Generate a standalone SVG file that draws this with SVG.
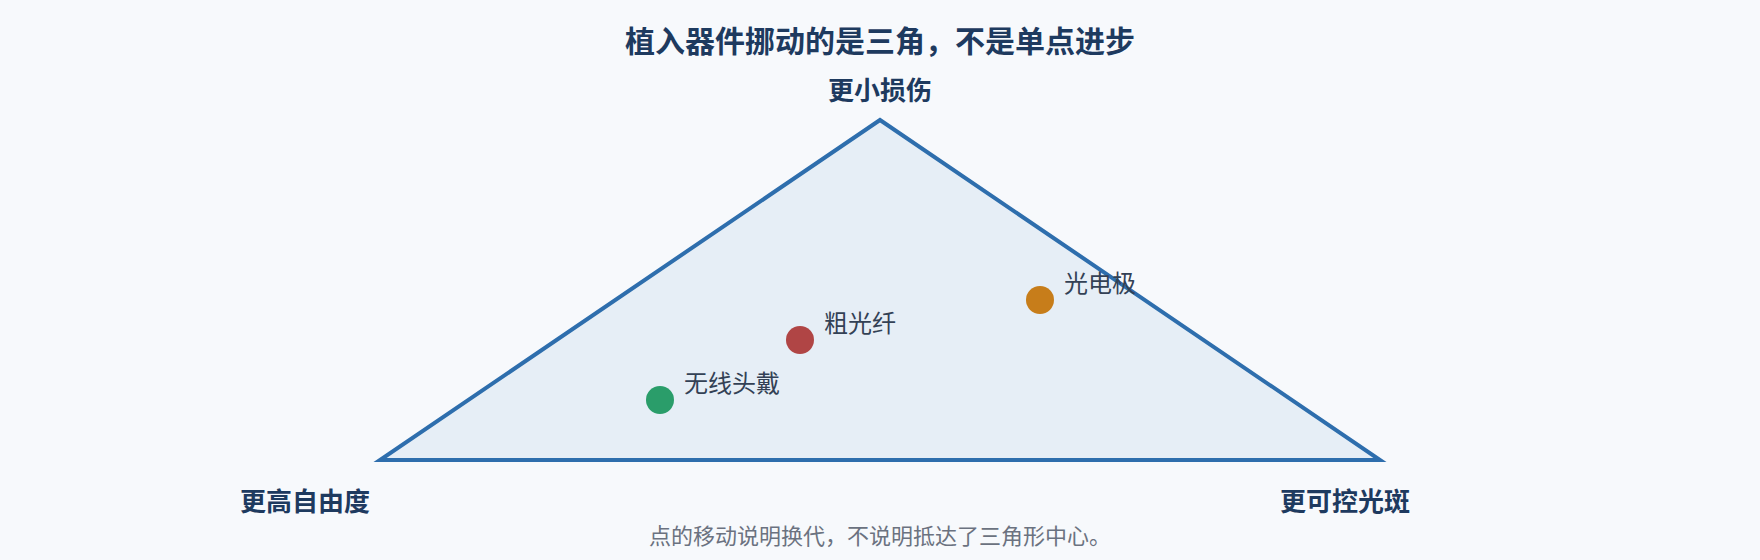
<svg xmlns="http://www.w3.org/2000/svg" width="1760" height="560" viewBox="0 0 1760 560">
  <style>
    text { font-family: "Noto Sans CJK SC", "Noto Sans", "Liberation Sans", sans-serif; }
    .title { font-size: 30px; font-weight: 700; fill: #1e3a5f; text-anchor: middle; }
    .axis { font-size: 26px; font-weight: 700; fill: #1e3a5f; }
    .pt { font-size: 24px; fill: #334155; }
    .note { font-size: 22px; fill: #6b7280; text-anchor: middle; }
    .tri { fill: #e6eef6; stroke: #2e6ead; stroke-width: 4; stroke-linejoin: miter; }
  </style>
  <rect x="0" y="0" width="1760" height="560" fill="#f7f9fc"/>
  <text class="title" x="880" y="52">植入器件挪动的是三角，不是单点进步</text>
  <g id="triangle">
    <polygon class="tri" points="880,120 380,460 1380,460"/>
  </g>
  <g id="axis-top"><text class="axis" x="880" y="100" text-anchor="middle">更小损伤</text></g>
  <g id="axis-left"><text class="axis" x="305" y="511" text-anchor="middle">更高自由度</text></g>
  <g id="axis-right"><text class="axis" x="1345" y="511" text-anchor="middle">更可控光斑</text></g>
  <g id="connectors"></g>
  <g id="pt-wireless">
    <circle cx="660" cy="400" r="14" fill="#2a9d6a"/>
    <text class="pt" x="684" y="392">无线头戴</text>
  </g>
  <g id="pt-fiber">
    <circle cx="800" cy="340" r="14" fill="#b04545"/>
    <text class="pt" x="824" y="332">粗光纤</text>
  </g>
  <g id="pt-optrode">
    <circle cx="1040" cy="300" r="14" fill="#c77d1a"/>
    <text class="pt" x="1064" y="292">光电极</text>
  </g>
  <text class="note" x="880" y="544">点的移动说明换代，不说明抵达了三角形中心。</text>
</svg>
